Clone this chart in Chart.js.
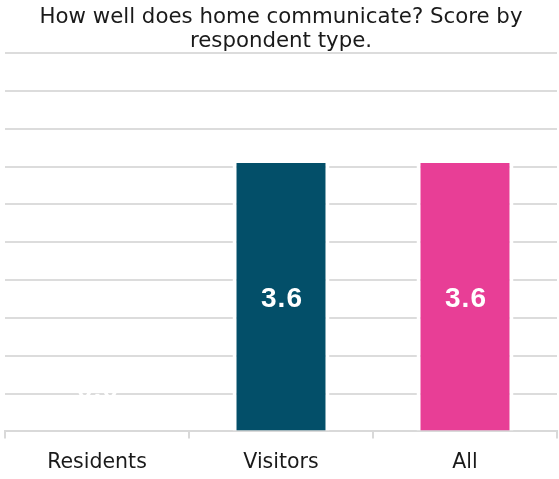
<!DOCTYPE html>
<html>
<head>
<meta charset="utf-8">
<script src="https://cdn.jsdelivr.net/npm/chart.js@4.4.1/dist/chart.umd.min.js"></script>
<style>
  html, body { margin: 0; padding: 0; background: #fff; }
  #wrap { width: 559px; height: 479px; position: relative; }
</style>
</head>
<body>
<div id="wrap"><canvas id="chartScore"></canvas></div>
<script>
// respondent types and their average score
const categories = ["Residents", "Visitors", "All"];
const scores = [0, 3.6, 3.6];
const barColors = ["#ffffff", "#034f69", "#e83e96"];
const titleLines = ["How well does home communicate? Score by", "respondent type."];

// draws the value in the middle of each bar
const valueLabels = {
  id: "valueLabels",
  afterDatasetsDraw(chart) {
    const ctx = chart.ctx;
    const meta = chart.getDatasetMeta(0);
    ctx.save();
    ctx.font = "bold 28px 'Liberation Sans'";
    ctx.letterSpacing = "1px";
    ctx.fillStyle = "#ffffff";
    ctx.textAlign = "center";
    ctx.textBaseline = "alphabetic";
    meta.data.forEach((bar, i) => {
      const mid = Math.min((bar.y + bar.base) / 2, bar.base - 46);
      ctx.fillText(scores[i].toFixed(1), bar.x + 1, mid + 12);
    });
    ctx.restore();
  }
};

new Chart(document.getElementById("chartScore"), {
  type: "bar",
  data: {
    labels: categories,
    datasets: [{
      data: scores,
      backgroundColor: barColors,
      borderColor: "#ffffff",
      borderWidth: 4,
      borderSkipped: "bottom",
      barPercentage: 0.527,
      categoryPercentage: 1
    }]
  },
  options: {
    responsive: true,
    maintainAspectRatio: false,
    animation: false,
    layout: { padding: { left: 5, right: 2, bottom: -8 } },
    plugins: {
      legend: { display: false },
      tooltip: { enabled: false },
      title: {
        display: true,
        text: titleLines,
        color: "#1a1a1a",
        font: { family: "'DejaVu Sans'", size: 21.3, weight: "normal", lineHeight: 1.13 },
        padding: { top: 5, bottom: 0 }
      }
    },
    scales: {
      x: {
        grid: {
          display: true,
          drawOnChartArea: false,
          drawTicks: true,
          tickLength: 7,
          offset: true,
          color: "#d9d9d9",
          lineWidth: 2
        },
        border: { display: true, color: "#d9d9d9", width: 2 },
        ticks: {
          color: "#1a1a1a",
          padding: 14,
          font: { family: "'DejaVu Sans'", size: 20.5, lineHeight: 1 }
        }
      },
      y: {
        min: 0,
        max: 5,
        ticks: { display: false, stepSize: 0.5 },
        border: { display: false },
        grid: { color: "#dcdcdc", lineWidth: 2, drawTicks: false }
      }
    }
  },
  plugins: [valueLabels]
});
</script>
</body>
</html>
